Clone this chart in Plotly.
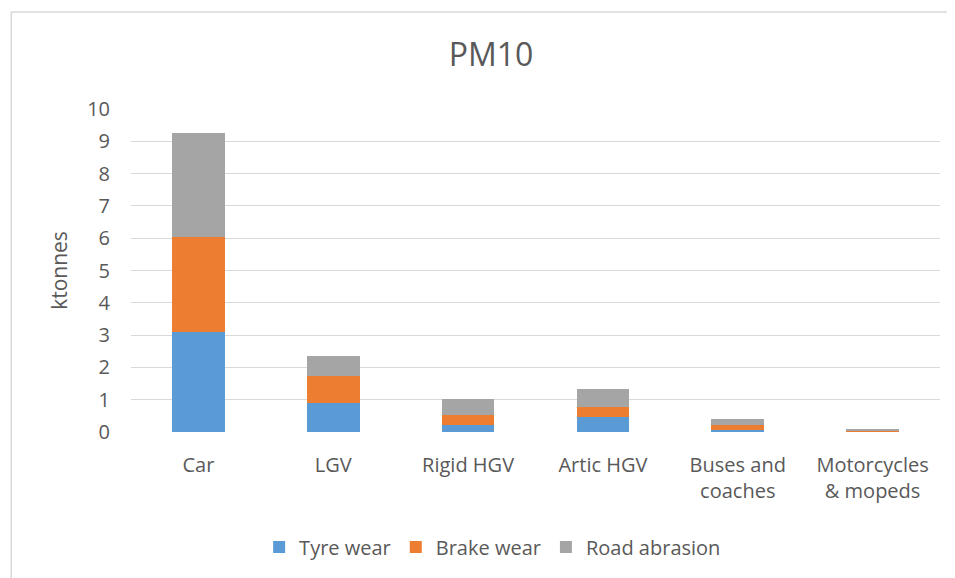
import plotly.graph_objects as go

categories = ["Car", "LGV", "Rigid HGV", "Artic HGV", "Buses and<br>coaches", "Motorcycles<br>& mopeds"]
tyre_wear = [3.11, 0.89, 0.21, 0.46, 0.05, 0.01]
brake_wear = [2.93, 0.85, 0.31, 0.30, 0.16, 0.01]
road_abrasion = [3.23, 0.62, 0.49, 0.56, 0.18, 0.07]
y_ticks = list(range(0, 11))

FONT = "'Open Sans', 'Noto Sans', sans-serif"
GREY_TXT = "#595959"

fig = go.Figure()
for name, vals, col in [("Tyre wear", tyre_wear, "#5B9BD5"),
                        ("Brake wear", brake_wear, "#ED7D31"),
                        ("Road abrasion", road_abrasion, "#A5A5A5")]:
    fig.add_trace(go.Bar(x=categories, y=vals, name=name, marker_color=col,
                         marker_line_width=0))

# page body has an 8px margin, so the figure is sized/offset to compensate
fig.update_layout(
    barmode="stack",
    bargap=0.61,
    width=947, height=570,
    margin=dict(l=123, r=15, t=101, b=146),
    paper_bgcolor="white", plot_bgcolor="white",
    font=dict(family=FONT, color=GREY_TXT, size=20),
    title=dict(text="PM10", x=0.51, xanchor="center", y=0.9175, yanchor="middle",
               font=dict(size=32, color=GREY_TXT, family=FONT)),
    xaxis=dict(showgrid=False, ticks="", showline=False, tickfont=dict(size=20),
               zeroline=False, ticklabelstandoff=19),
    yaxis=dict(range=[0, 10], tickvals=y_ticks, showgrid=True, gridcolor="#D9D9D9",
               gridwidth=1, zeroline=False, showline=False, ticks="",
               tickfont=dict(size=20), ticklabelstandoff=20,
               title=dict(text="ktonnes", font=dict(size=21), standoff=13)),
    legend=dict(orientation="h", x=0.447, xanchor="center", y=-0.356, yanchor="middle",
                font=dict(size=20), traceorder="normal", itemwidth=30),
    showlegend=True,
)

# chart border (top and left edges)
fig.add_shape(type="line", xref="paper", yref="paper", x0=-0.148, x1=1.02, y0=1.3, y1=1.3,
              line=dict(color="#D9D9D9", width=1.5))
fig.add_shape(type="line", xref="paper", yref="paper", x0=-0.148, x1=-0.148, y0=1.3, y1=-0.46,
              line=dict(color="#D9D9D9", width=1.5))

fig.write_html("out.html")
